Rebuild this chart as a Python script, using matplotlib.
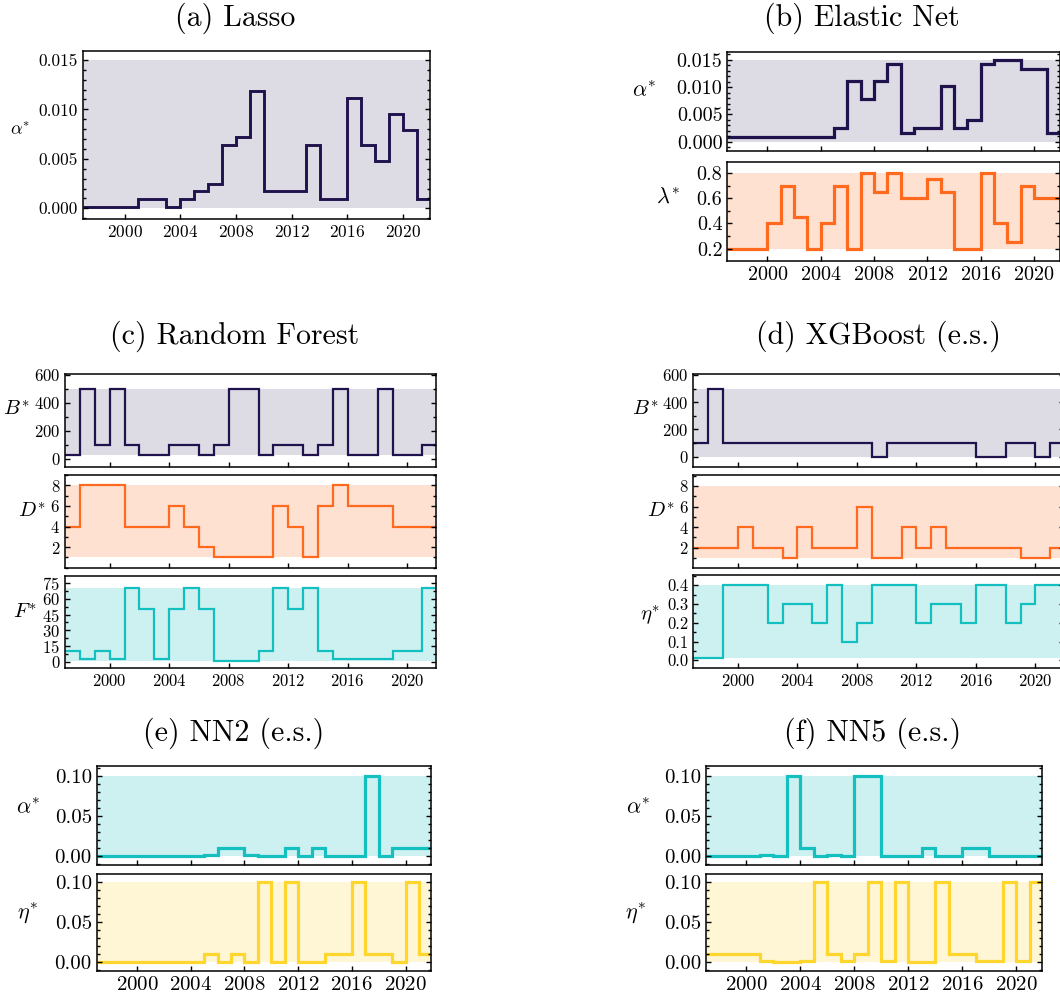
import numpy as np
import matplotlib
matplotlib.use("Agg")
import matplotlib.pyplot as plt
from matplotlib.ticker import AutoMinorLocator, FormatStrFormatter

plt.rcParams["font.family"] = "serif"
plt.rcParams["font.serif"] = ["cmr10"]
plt.rcParams["mathtext.fontset"] = "cm"
plt.rcParams["axes.formatter.use_mathtext"] = True

# yearly optimal hyperparameters, one value per year 1997..2021
year_edges = np.arange(1997, 2023)

lasso_alpha = [0.0001, 0.0001, 0.0001, 0.0001, 0.0009, 0.0009, 0.0001, 0.0009, 0.0017, 0.0025,
               0.0064, 0.0072, 0.0119, 0.0017, 0.0017, 0.0017, 0.0064, 0.0009, 0.0009, 0.0111,
               0.0064, 0.0048, 0.0095, 0.0079, 0.0009]

enet_alpha = [0.0008, 0.0008, 0.0008, 0.0008, 0.0008, 0.0008, 0.0008, 0.0008, 0.0025, 0.0111,
              0.0079, 0.0111, 0.0142, 0.0016, 0.0025, 0.0025, 0.0103, 0.0025, 0.0039, 0.0142,
              0.015, 0.015, 0.0134, 0.0134, 0.0016]
enet_lambda = [0.2, 0.2, 0.2, 0.4, 0.7, 0.45, 0.2, 0.4, 0.7, 0.2,
               0.8, 0.65, 0.8, 0.6, 0.6, 0.75, 0.65, 0.2, 0.2, 0.8,
               0.4, 0.25, 0.7, 0.6, 0.6]

rf_B = [25, 500, 100, 500, 100, 25, 25, 100, 100, 25,
        100, 500, 500, 25, 100, 100, 25, 100, 500, 25,
        25, 500, 25, 25, 100]
rf_D = [4, 8, 8, 8, 4, 4, 4, 6, 4, 2,
        1, 1, 1, 1, 6, 4, 1, 6, 8, 6,
        6, 6, 4, 4, 4]
rf_F = [10, 3, 10, 3, 70, 50, 3, 50, 70, 50,
        1, 1, 1, 10, 70, 50, 70, 10, 3, 3,
        3, 3, 10, 10, 70]

xgb_B = [100, 500, 100, 100, 100, 100, 100, 100, 100, 100,
         100, 100, 0, 100, 100, 100, 100, 100, 100, 0,
         0, 100, 100, 0, 100]
xgb_D = [2, 2, 2, 4, 2, 2, 1, 4, 2, 2,
         2, 6, 1, 1, 4, 2, 4, 2, 2, 2,
         2, 2, 1, 1, 2]
xgb_eta = [0.01, 0.01, 0.4, 0.4, 0.4, 0.2, 0.3, 0.3, 0.2, 0.4,
           0.1, 0.2, 0.4, 0.4, 0.4, 0.2, 0.3, 0.3, 0.2, 0.4,
           0.4, 0.2, 0.3, 0.4, 0.4]

nn2_alpha = [0, 0, 0, 0, 0, 0, 0, 0, 0.001, 0.01,
             0.01, 0.001, 0, 0, 0.01, 0, 0.01, 0, 0, 0,
             0.1, 0, 0.01, 0.01, 0.01]
nn2_eta = [0, 0, 0, 0, 0, 0, 0, 0, 0.01, 0,
           0.01, 0, 0.1, 0, 0.1, 0, 0, 0.01, 0.01, 0.1,
           0.01, 0.01, 0, 0.1, 0.01]

nn5_alpha = [0, 0, 0, 0, 0.001, 0, 0.1, 0.01, 0, 0.001,
             0, 0.1, 0.1, 0, 0, 0, 0.01, 0, 0, 0.01,
             0.01, 0, 0, 0, 0]
nn5_eta = [0.01, 0.01, 0.01, 0.01, 0.001, 0, 0, 0.001, 0.1, 0.01,
           0.001, 0.01, 0.1, 0.001, 0.1, 0, 0, 0.1, 0.01, 0.01,
           0.001, 0.001, 0.1, 0.001, 0.1]

# hyperparameter search ranges (shaded band)
lasso_range = (0, 0.015)
lambda_range = (0.2, 0.8)
rf_B_range, rf_D_range, rf_F_range = (25, 500), (1, 8), (1, 70)
xgb_B_range, xgb_D_range, xgb_eta_range = (0, 500), (1, 8), (0.01, 0.4)
nn_range = (0, 0.1)

navy, orange, teal, yellow = "#20124d", "#ff6a1f", "#14bfbf", "#ffd62e"
band_alpha = {navy: 0.15, orange: 0.2, teal: 0.21, yellow: 0.2}

W, H = 1060, 997
fig = plt.figure(figsize=(W / 100, H / 100), dpi=100)


def add_panel(x0, x1, y0, y1, vals, color, band, ylim, yticks, fmt, label, lab_xy,
              fs_tick, fs_lab, lw=2.0, minor=2, xlabels=True):
    ax = fig.add_axes([x0 / W, 1 - y1 / H, (x1 - x0) / W, (y1 - y0) / H])
    ax.axhspan(band[0], band[1], color=color, alpha=band_alpha[color], lw=0)
    ax.stairs(vals, year_edges, baseline=None, color=color, lw=lw)
    ax.set_xlim(1997, 2021.92)
    ax.set_ylim(*ylim)
    ax.set_xticks(np.arange(2000, 2021, 4))
    ax.set_yticks(yticks)
    if fmt:
        ax.yaxis.set_major_formatter(FormatStrFormatter(fmt))
    ax.yaxis.set_minor_locator(AutoMinorLocator(minor))
    ax.tick_params(which="both", direction="in", right=True, labelsize=fs_tick, width=1.0)
    ax.tick_params(which="major", length=3.5)
    ax.tick_params(which="minor", length=2)
    if not xlabels:
        ax.tick_params(axis="x", labelbottom=False)
    for s in ax.spines.values():
        s.set_linewidth(1.1)
    ax.set_ylabel(label, rotation=0, fontsize=fs_lab, ha="center", va="center")
    ax.yaxis.set_label_coords((lab_xy[0] - x0) / (x1 - x0), (y1 - lab_xy[1]) / (y1 - y0))
    return ax


def title(x, y, s):
    fig.text(x / W, 1 - y / H, s, ha="center", va="center", fontsize=21.5)


# (a) Lasso
title(235, 18, "(a) Lasso")
add_panel(82.7, 430, 51, 219, lasso_alpha, navy, lasso_range, (-0.00108, 0.0159),
          [0, 0.005, 0.010, 0.015], "%.3f", r"$\alpha^{*}$", (20, 129), 12.5, 13,
          lw=2.1, minor=5)

# (b) Elastic Net
title(862, 18, "(b) Elastic Net")
add_panel(727.3, 1059.5, 51.7, 151, enet_alpha, navy, lasso_range, (-0.0017, 0.0165),
          [0, 0.005, 0.010, 0.015], "%.3f", r"$\alpha^{*}$", (644, 90), 14.5, 16,
          lw=2.3, minor=5, xlabels=False)
add_panel(727.3, 1059.5, 162.3, 261, enet_lambda, orange, lambda_range, (0.102, 0.885),
          [0.2, 0.4, 0.6, 0.8], "%.1f", r"$\lambda^{*}$", (668, 197), 14.5, 16, lw=2.3)

# (c) Random Forest
title(235, 336, "(c) Random Forest")
add_panel(65, 436, 374, 466.7, rf_B, navy, rf_B_range, (-55, 607),
          [0, 200, 400, 600], None, r"$B^{*}$", (16, 410), 12, 15, lw=1.6, xlabels=False)
add_panel(65, 436, 475, 567.7, rf_D, orange, rf_D_range, (0.0, 9.0),
          [2, 4, 6, 8], None, r"$D^{*}$", (32, 512), 12, 15, lw=1.6, xlabels=False)
add_panel(65, 436, 575.7, 668, rf_F, teal, rf_F_range, (-6, 82),
          [0, 15, 30, 45, 60, 75], None, r"$F^{*}$", (25, 613), 12, 15, lw=1.6)

# (d) XGBoost
title(878, 336, "(d) XGBoost (e.s.)")
add_panel(693.3, 1064, 374, 466.7, xgb_B, navy, xgb_B_range, (-73, 607),
          [0, 200, 400, 600], None, r"$B^{*}$", (645, 410), 12, 15, lw=1.6, xlabels=False)
add_panel(693.3, 1064, 475, 567.7, xgb_D, orange, xgb_D_range, (0.05, 9.07),
          [2, 4, 6, 8], None, r"$D^{*}$", (661, 512), 12, 15, lw=1.6, xlabels=False)
add_panel(693.3, 1064, 575, 668, xgb_eta, teal, xgb_eta_range, (-0.041, 0.455),
          [0.0, 0.1, 0.2, 0.3, 0.4], "%.1f", r"$\eta^{*}$", (650, 615), 12, 15, lw=1.6)

# (e) NN2
title(234, 733, "(e) NN2 (e.s.)")
add_panel(96.7, 431.3, 766, 865, nn2_alpha, teal, nn_range, (-0.0113, 0.1125),
          [0, 0.05, 0.10], "%.2f", r"$\alpha^{*}$", (28, 807), 15, 16, lw=2.3, minor=5,
          xlabels=False)
add_panel(96.7, 431.3, 874.3, 970.7, nn2_eta, yellow, nn_range, (-0.0108, 0.1096),
          [0, 0.05, 0.10], "%.2f", r"$\eta^{*}$", (28, 913), 15, 16, lw=2.3, minor=5)

# (f) NN5
title(873, 733, "(f) NN5 (e.s.)")
add_panel(706, 1042, 766, 865, nn5_alpha, teal, nn_range, (-0.0113, 0.1125),
          [0, 0.05, 0.10], "%.2f", r"$\alpha^{*}$", (638, 807), 15, 16, lw=2.3, minor=5,
          xlabels=False)
add_panel(706, 1042, 874.3, 970.7, nn5_eta, yellow, nn_range, (-0.0108, 0.1096),
          [0, 0.05, 0.10], "%.2f", r"$\eta^{*}$", (636, 913), 15, 16, lw=2.3, minor=5)

fig.savefig("out.png", dpi=100)
